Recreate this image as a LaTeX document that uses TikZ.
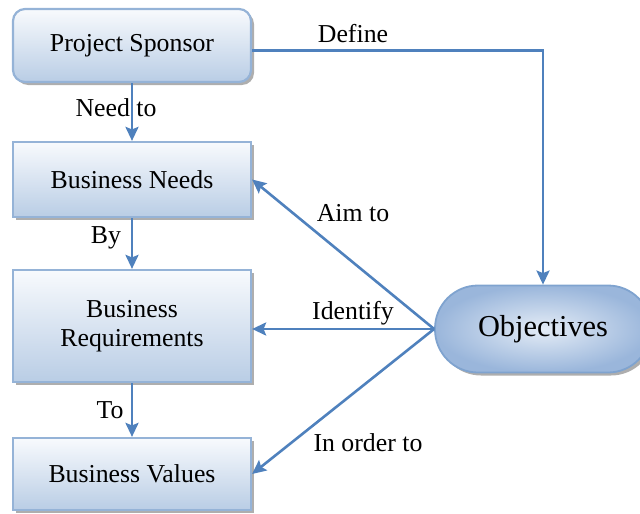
\documentclass[tikz,border=0pt]{standalone}
\usepackage{fontspec}
\setmainfont{Liberation Serif}
\usetikzlibrary{arrows.meta,shadows}
\definecolor{lineblue}{HTML}{4F81BD}
\definecolor{boxborder}{HTML}{95B3D7}
\definecolor{boxbottom}{HTML}{B9CDE5}
\definecolor{boxtop}{HTML}{F8FAFD}
\definecolor{objin}{HTML}{E4ECF6}
\definecolor{objout}{HTML}{9AB6DB}
\definecolor{objborder}{HTML}{7FA3CF}
\begin{document}
\begin{tikzpicture}[x=1pt,y=-1pt,
  box/.style={draw=boxborder, line width=2.2pt, top color=boxtop, bottom color=boxbottom,
    minimum width=238pt, align=center, text=black,
    font=\fontsize{25.8}{29.5}\selectfont,
    drop shadow={shadow xshift=3pt, shadow yshift=-3pt, fill=black!45, opacity=0.7}},
  objbox/.style={draw=objborder, line width=1.8pt, inner color=objin, outer color=objout,
    minimum width=216pt, minimum height=87pt, rounded corners=43pt,
    font=\fontsize{30.4}{34}\selectfont,
    drop shadow={shadow xshift=3pt, shadow yshift=-3pt, fill=black!45, opacity=0.7}},
  conn/.style={draw=lineblue, line width=2.6pt, -{Stealth[length=14pt,width=13pt,inset=2.5pt]}},
  lbl/.style={font=\fontsize{25.8}{29.5}\selectfont, inner sep=0pt, text=black}
]
\useasboundingbox (0,0) rectangle (640,514);
\node[box, rounded corners=12pt, minimum height=73pt] (PS) at (132,45.5) {Project Sponsor};
\node[box, minimum height=75pt] (BN) at (132,179.5) {Business Needs};
\node[box, minimum height=112pt] (BR) at (132,326) {Business\\Requirements};
\node[box, minimum height=72pt] (BV) at (132,474) {Business Values};
\node[objbox] (OB) at (543,329) {Objectives};

\draw[conn] (PS) -- (BN);
\draw[conn] (BN) -- (BR);
\draw[conn] (BR) -- (BV);
\draw[conn] ([yshift=-5pt]PS.east) -| (OB.north);
\draw[conn] (OB.west) -- (BN.east);
\draw[conn] (OB.west) -- (OB.west -| BR.east);
\draw[conn] (OB.west) -- (BV.east);

\node[lbl] (l1) at (353,34) {Define};
\node[lbl] (l2) at (116,108) {Need to};
\node[lbl] (l3) at (106,238) {By};
\node[lbl] (l4) at (110,410) {To};
\node[lbl] (l5) at (353,213) {Aim to};
\node[lbl] (l6) at (353,313) {Identify};
\node[lbl] (l7) at (368,443) {In order to};
\end{tikzpicture}
\end{document}
